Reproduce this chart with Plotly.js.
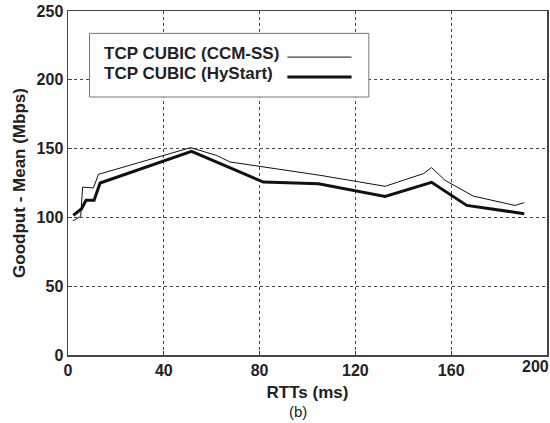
<!DOCTYPE html>
<html><head><meta charset="utf-8">
<script src="https://cdn.plot.ly/plotly-3.0.1.min.js"></script>
<style>body{margin:0;padding:0;background:#fff;overflow:hidden}#c{width:550px;height:423px}</style>
</head><body><div id="c"></div>
<script>
var ccmX = [2.0, 5.3, 6.1, 10.6, 12.7, 51.2, 62.1, 67.6, 105.2, 132.4, 148.4, 151.8, 157.4, 169.2, 186.6, 190.5];
var ccmY = [97.5, 100.7, 122, 121.4, 131.3, 150.7, 145, 140.3, 130.6, 122.6, 131.8, 136.2, 127, 115.5, 108.7, 110.7];
var hyX = [2.2, 5.7, 7.5, 10.9, 13.4, 51.6, 81.6, 104.6, 132.4, 151.8, 166.5, 190.5];
var hyY = [101.5, 106.3, 112.4, 112.4, 125, 148, 125.7, 124.5, 115.3, 125.5, 108.7, 102.7];
var seriesNames = ['TCP CUBIC (CCM-SS)', 'TCP CUBIC (HyStart)'];
var xTicks = [0, 40, 80, 120, 160, 200];
var yTicks = [0, 50, 100, 150, 200, 250];

var font = {family: 'Liberation Sans, Arial, sans-serif', size: 16, color: '#222'};
var traces = [
  {x: ccmX, y: ccmY, mode: 'lines', name: seriesNames[0], line: {color: '#111', width: 1}},
  {x: hyX, y: hyY, mode: 'lines', name: seriesNames[1], line: {color: '#111', width: 3}}
];
var lastX = xTicks[xTicks.length - 1];
var layout = {
  width: 550, height: 423,
  margin: {l: 68, r: 3, t: 11, b: 68},
  paper_bgcolor: '#fff', plot_bgcolor: '#fff',
  showlegend: false,
  font: font,
  xaxis: {range: [0, 200], tickvals: xTicks,
    ticktext: xTicks.map(function(v){return v === lastX ? '' : '<b>'+v+'</b>';}),
    showgrid: true, gridcolor: '#444', griddash: 'dot', gridwidth: 1,
    showline: true, linecolor: '#444', linewidth: 1.5, mirror: true, zeroline: false,
    ticks: 'inside', ticklen: 4, tickcolor: '#444', tickfont: {size: 16, color: '#222'},
    ticklabeloverflow: 'allow',
    title: {text: '<b>RTTs (ms)</b>', font: {size: 17, color: '#222'}, standoff: 8}},
  yaxis: {range: [0, 250], tickvals: yTicks, ticktext: yTicks.map(function(v){return '<b>'+v+'</b>';}),
    showgrid: true, gridcolor: '#444', griddash: 'dot', gridwidth: 1,
    showline: true, linecolor: '#444', linewidth: 1.5, mirror: true, zeroline: false,
    ticks: 'inside', ticklen: 4, tickcolor: '#444', tickfont: {size: 16, color: '#222'},
    ticklabeloverflow: 'allow',
    title: {text: '<b>Goodput - Mean (Mbps)</b>', font: {size: 17, color: '#222'}, standoff: 6}},
  shapes: [
    {type: 'rect', xref: 'paper', yref: 'paper', x0: 0.045, x1: 0.628, y0: 0.75, y1: 0.935,
      line: {color: '#777', width: 1}, fillcolor: '#fff', layer: 'above'},
    {type: 'line', xref: 'paper', yref: 'paper', x0: 0.458, x1: 0.592, y0: 0.866, y1: 0.866,
      line: {color: '#111', width: 1}, layer: 'above'},
    {type: 'line', xref: 'paper', yref: 'paper', x0: 0.458, x1: 0.592, y0: 0.808, y1: 0.808,
      line: {color: '#111', width: 3}, layer: 'above'}
  ],
  annotations: [
    {xref: 'x', yref: 'paper', x: lastX, y: 0, xanchor: 'right', yanchor: 'top', xshift: 4, yshift: -1,
      showarrow: false, text: '<b>' + lastX + '</b>', font: {size: 16, color: '#222'}},
    {xref: 'paper', yref: 'paper', x: 0.072, y: 0.877, xanchor: 'left', yanchor: 'middle', showarrow: false,
      text: '<b>' + seriesNames[0] + '</b>', font: {size: 17, color: '#222'}},
    {xref: 'paper', yref: 'paper', x: 0.072, y: 0.819, xanchor: 'left', yanchor: 'middle', showarrow: false,
      text: '<b>' + seriesNames[1] + '</b>', font: {size: 17, color: '#222'}},
    {xref: 'paper', yref: 'paper', x: 0.48, y: 0, yshift: -67, xanchor: 'center', yanchor: 'bottom', showarrow: false,
      text: '(b)', font: {size: 15, color: '#222'}}
  ]
};
Plotly.newPlot('c', traces, layout, {displayModeBar: false, staticPlot: true});
</script></body></html>
